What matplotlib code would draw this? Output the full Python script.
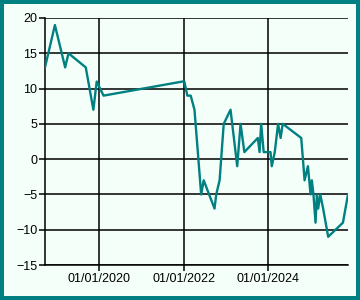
import matplotlib
matplotlib.use("Agg")
import matplotlib.pyplot as plt
import matplotlib.dates as mdates
from matplotlib.patches import Rectangle
import numpy as np

# values
dates = ['2018-09-16', '2018-12-11', '2019-03-10', '2019-04-08', '2019-09-05',
         '2019-11-10', '2019-12-09', '2020-02-06', '2021-12-24', '2022-01-08',
         '2022-02-03', '2022-03-04', '2022-04-06', '2022-06-03', '2022-06-25',
         '2022-09-27', '2022-10-12', '2022-11-10', '2022-12-16', '2023-02-13',
         '2023-03-14', '2023-04-12', '2023-05-11', '2023-06-13', '2023-10-08',
         '2023-10-23', '2023-11-06', '2023-11-28', '2024-01-26', '2024-02-06',
         '2024-03-03', '2024-04-01', '2024-04-23', '2024-05-11', '2024-10-19',
         '2024-11-17', '2024-12-16', '2025-01-08', '2025-01-19', '2025-02-02',
         '2025-02-20', '2025-03-04', '2025-03-15', '2025-04-02', '2025-04-27',
         '2025-06-10', '2025-10-16', '2025-11-29']
values = [13, 19, 13, 15, 13,
          7, 11, 9, 11, 11,
          9, 9, 7, -5, -3,
          -7, -5, -3, 5, 7,
          3, -1, 5, 1, 3,
          1, 5, 1, 1, -1,
          1, 5, 3, 5, 3,
          -3, -1, -5, -3, -5,
          -9, -5, -7, -5, -7,
          -11, -9, -5]
y_ticks = [-15, -10, -5, 0, 5, 10, 15, 20]

teal = '#008080'
bg = '#F5FFFA'

x = np.array(dates, dtype='datetime64[D]')

fig = plt.figure(figsize=(3.6, 3.0), dpi=100)
fig.patch.set_facecolor(teal)
fig.patches.append(Rectangle((4/360, 4/300), 352/360, 292/300, transform=fig.transFigure,
                             facecolor=bg, edgecolor='none', zorder=-1))

ax = fig.add_axes([45/360, 35/300, 303/360, 247/300])
ax.set_facecolor(bg)
ax.plot(x, values, color=teal, linewidth=1.7, zorder=3)

ax.set_xlim(x[0], x[-1])
ax.set_ylim(-15, 20)
ax.set_yticks(y_ticks)
ax.xaxis.set_major_locator(mdates.YearLocator(base=2))
ax.xaxis.set_major_formatter(mdates.DateFormatter('%d/%m/%Y'))

ax.grid(True, color='black', linewidth=1.1)
for s in ['top', 'right']:
    ax.spines[s].set_visible(False)
for s in ['left', 'bottom']:
    ax.spines[s].set_linewidth(1.1)
ax.tick_params(length=4, width=1.1, pad=1.5, labelsize=9)
for lab in ax.get_xticklabels() + ax.get_yticklabels():
    lab.set_fontfamily('Liberation Sans')

fig.savefig('out.png', dpi=100, facecolor=fig.get_facecolor())
